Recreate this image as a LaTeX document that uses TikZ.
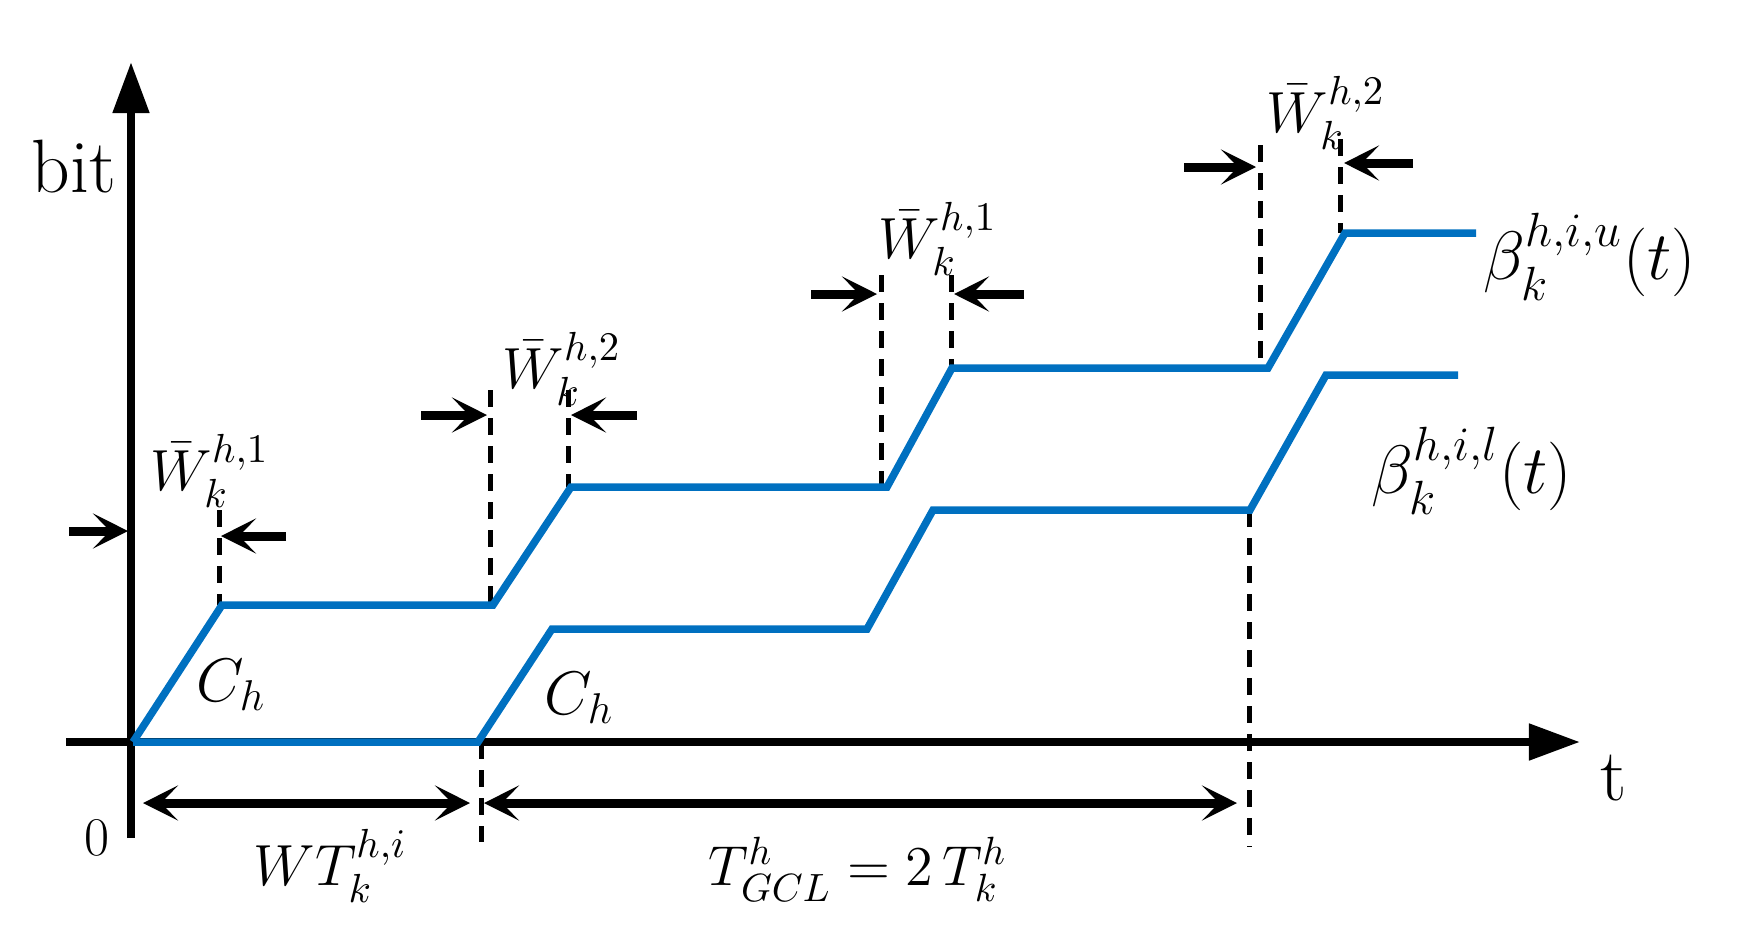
\RequirePackage{fix-cm}
\documentclass[tikz,border=0pt]{standalone}
\usepackage{amsmath}
\usetikzlibrary{arrows.meta}
\definecolor{curveblue}{RGB}{0,112,192}
\newcommand\fsz[1]{\fontsize{#1}{#1}\selectfont}
\tikzset{
  axisline/.style={line width=0.08cm, -{Triangle[length=0.51cm,width=0.35cm]}},
  curve/.style={curveblue, line width=0.075cm},
  guide/.style={line width=0.05cm, dash pattern=on 0.17cm off 0.11cm},
  pointer/.style={line width=0.09cm, -{Stealth[length=0.35cm,width=0.35cm,inset=0.17cm]}},
  span/.style={line width=0.09cm, {Stealth[length=0.35cm,width=0.35cm,inset=0.17cm]}-{Stealth[length=0.35cm,width=0.35cm,inset=0.17cm]}},
  lbl/.style={inner sep=0pt, anchor=base west},
}
\begin{document}
\begin{tikzpicture}[x=0.01cm, y=-0.01cm]
\useasboundingbox (0,0) rectangle (1746,933);
% key points
\coordinate (o) at (133,742);
% guide lines
\draw[guide] (219,510) -- (219,605);
\draw[guide] (490,390) -- (490,604);
\draw[guide] (568,390) -- (568,487);
\draw[guide] (881,275) -- (881,487);
\draw[guide] (951,275) -- (951,368);
\draw[guide] (1260,145) -- (1260,368);
\draw[guide] (1340,139) -- (1340,233);
\draw[guide] (481,742) -- (481,842);
\draw[guide] (1249,510) -- (1249,847);
% axes
\coordinate (ybot) at (131,838);
\coordinate (ytop) at (131,62);
\coordinate (xleft) at (66,742);
\coordinate (xright) at (1580,742);
\draw[axisline] (ybot) -- (ytop);
\draw[axisline] (xleft) -- (xright);
% curves
\draw[curve] (o) -- (222,605) -- (493,605) -- (571,487) -- (887,487) -- (952,368)
  -- (1268,368) -- (1345,233) -- (1476,233);
\draw[curve] (o) -- (478,742) -- (552,629) -- (867,629) -- (933,510) -- (1250,510)
  -- (1326,375) -- (1458,375);
% pointer arrows
\draw[pointer] (69,531) -- (128,531);
\draw[pointer] (286,536) -- (221,536);
\draw[pointer] (421,415) -- (487,415);
\draw[pointer] (637,415) -- (571,415);
\draw[pointer] (811,294) -- (877,294);
\draw[pointer] (1024,294) -- (954,294);
\draw[pointer] (1184,167) -- (1256,167);
\draw[pointer] (1413,163) -- (1344,163);
% span arrows
\draw[span] (143,803) -- (470,803);
\draw[span] (484,803) -- (1237,803);
% labels
\node[lbl, font=\fsz{21.5}] (bit) at (31,192) {bit};
\node[lbl, font=\fsz{21}] (tlab) at (1600,800) {t};
\node[inner sep=0pt, anchor=base, font=\fsz{15.5}] (zero) at (97,855) {0};
\node[lbl, font=\fsz{16.5}] (wa) at (150,490) {$\bar{W}_k^{h,1}$};
\node[lbl, font=\fsz{16.5}] (wb) at (502,388) {$\bar{W}_k^{h,2}$};
\node[lbl, font=\fsz{16.5}] (wc) at (878,258) {$\bar{W}_k^{h,1}$};
\node[lbl, font=\fsz{16.5}] (wd) at (1266,132) {$\bar{W}_k^{h,2}$};
\node[lbl, font=\fsz{17.5}] (ca) at (196,701) {$C_h$};
\node[lbl, font=\fsz{17.5}] (cb) at (544,714) {$C_h$};
\node[lbl, font=\fsz{19.5}] (bu) at (1483,279) {$\beta_k^{h,i,u}(t)$};
\node[lbl, font=\fsz{19.5}] (bl) at (1371,493) {$\beta_k^{h,i,l}(t)$};
\node[lbl, font=\fsz{16.5}] (wt) at (253,885) {$WT_k^{h,i}$};
\node[lbl, font=\fsz{16}] (tg) at (708,885) {$T_{GCL}^h = 2\,T_k^h$};
\end{tikzpicture}
\end{document}
